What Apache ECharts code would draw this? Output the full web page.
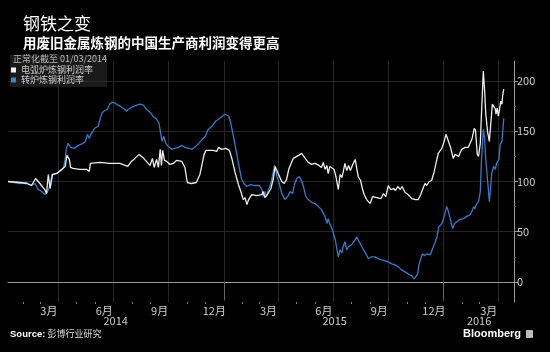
<!DOCTYPE html>
<html>
<head>
<meta charset="utf-8">
<script src="https://cdn.jsdelivr.net/npm/echarts@6/dist/echarts.min.js"></script>
<style>
  html, body { margin: 0; padding: 0; background: #000; }
  #chart { width: 550px; height: 352px; }
</style>
</head>
<body>
<div id="chart"></div>
<script>
  // x = days since 2014-01-01
  const eafDays = [6, 26, 37, 45, 52, 59, 67, 70, 73, 76, 80, 87, 95, 101, 104, 108, 110, 114, 125, 137, 141, 143, 159, 175, 192, 205, 211, 217, 224, 230, 236, 242, 246, 249, 253, 256, 259, 261, 263, 266, 270, 275, 281, 286, 295, 300, 304, 311, 319, 325, 328, 332, 335, 347, 353, 356, 361, 368, 374, 378, 383, 389, 394, 397, 400, 403, 406, 411, 419, 428, 430, 433, 438, 443, 447, 450, 455, 461, 465, 469, 473, 480, 489, 494, 500, 505, 511, 516, 523, 527, 530, 533, 536, 538, 541, 544, 548, 551, 555, 558, 561, 563, 566, 569, 572, 575, 579, 583, 586, 588, 592, 595, 598, 602, 608, 612, 619, 626, 630, 634, 638, 642, 647, 650, 654, 658, 661, 666, 671, 677, 683, 688, 692, 695, 699, 702, 706, 710, 714, 717, 721, 727, 730, 734, 738, 742, 746, 749, 755, 760, 766, 771, 777, 781, 783, 786, 788, 791, 793, 796, 798, 800, 803, 806, 809, 811, 813, 816, 817, 819, 821, 823, 825, 827, 828, 830];
  const eafValues = [100, 99, 98, 96, 103, 98, 92, 88, 107, 93, 107, 108, 112, 115, 126, 122, 114, 113, 112, 112, 110, 118, 119, 118, 118, 115, 120, 123, 127, 124, 120, 116, 123, 114, 122, 114, 132, 116, 131, 121, 120, 117, 118, 121, 120, 114, 99, 98, 99, 107, 108, 127, 131, 131, 130, 134, 132, 133, 131, 123, 110, 97, 88, 82, 84, 77, 82, 87, 86, 87, 90, 84, 88, 93, 103, 115, 108, 100, 98, 102, 113, 123, 126, 128, 123, 119, 117, 118, 116, 114, 119, 112, 116, 108, 115, 116, 112, 105, 92, 107, 104, 109, 118, 111, 116, 111, 117, 122, 123, 105, 101, 93, 87, 82, 78, 85, 84, 83, 88, 85, 96, 92, 93, 91, 95, 92, 95, 89, 87, 83, 82, 82, 87, 92, 98, 96, 100, 101, 109, 117, 128, 133, 138, 147, 140, 133, 123, 127, 125, 132, 134, 134, 142, 153, 151, 127, 125, 138, 168, 210, 192, 168, 150, 140, 162, 177, 178, 172, 167, 173, 165, 172, 180, 177, 185, 192];

  const bofDays = [6, 26, 37, 45, 51, 56, 62, 67, 71, 74, 77, 79, 84, 92, 98, 101, 103, 106, 110, 116, 123, 131, 135, 138, 141, 145, 150, 156, 159, 162, 165, 171, 175, 179, 184, 189, 195, 200, 203, 206, 212, 220, 225, 231, 236, 242, 247, 253, 257, 260, 262, 265, 268, 272, 278, 283, 289, 295, 300, 307, 312, 318, 323, 329, 334, 339, 345, 351, 356, 362, 367, 373, 376, 380, 386, 390, 394, 398, 403, 409, 416, 424, 428, 430, 433, 436, 439, 443, 446, 449, 453, 456, 461, 466, 471, 475, 479, 482, 486, 490, 493, 497, 501, 505, 511, 516, 522, 527, 533, 536, 538, 541, 545, 550, 552, 555, 558, 561, 563, 566, 569, 572, 577, 583, 586, 588, 594, 599, 605, 610, 616, 622, 627, 633, 638, 644, 649, 655, 660, 666, 671, 677, 681, 684, 687, 689, 693, 695, 698, 702, 708, 711, 715, 719, 722, 727, 731, 735, 737, 741, 745, 748, 752, 757, 763, 768, 774, 777, 780, 782, 785, 788, 791, 793, 796, 798, 800, 803, 806, 808, 810, 813, 816, 818, 820, 822, 824, 827, 829, 830];
  const bofValues = [100, 98, 99, 96, 98, 92, 90, 87, 89, 93, 100, 107, 107, 110, 113, 122, 133, 138, 134, 133, 136, 138, 140, 147, 143, 148, 153, 155, 162, 168, 170, 172, 177, 179, 178, 176, 174, 172, 170, 172, 174, 176, 177, 176, 172, 169, 165, 162, 158, 147, 140, 145, 138, 135, 132, 133, 134, 136, 134, 133, 132, 135, 138, 142, 145, 152, 155, 160, 162, 165, 167, 165, 159, 147, 128, 115, 103, 98, 95, 97, 96, 96, 92, 85, 90, 85, 92, 98, 107, 116, 105, 100, 88, 82, 85, 90, 88, 97, 103, 105, 102, 95, 85, 82, 79, 78, 75, 72, 65, 58, 63, 58, 52, 42, 35, 25, 32, 29, 35, 40, 32, 35, 37, 42, 45, 42, 35, 30, 23, 25, 25, 23, 22, 21, 20, 18, 17, 15, 12, 10, 8, 6, 3, 2, 8, 17, 25, 28, 26, 28, 27, 32, 38, 45, 55, 58, 65, 75, 72, 63, 53, 58, 60, 62, 63, 65, 67, 70, 75, 73, 78, 80, 90, 122, 152, 143, 122, 102, 80, 93, 108, 115, 112, 118, 118, 122, 137, 140, 155, 163];

  // axis ticks / labels
  const quarterDays = [90, 181, 273, 365, 455, 546, 638, 730, 821];
  const monthStartDays = [31, 59, 120, 151, 212, 243, 304, 334, 396, 424, 485, 516, 577, 608, 669, 699, 761, 790];
  const monthLabelDays = [74, 166, 258, 349, 439, 531, 623, 714, 805];
  const monthLabels = ['3月', '6月', '9月', '12月', '3月', '6月', '9月', '12月', '3月'];
  const yearLabelDays = [185, 549, 789];
  const yearLabels = ['2014', '2015', '2016'];
  const yearBreakDays = [365, 730];
  const yTicks = [0, 50, 100, 150, 200];
  const yMinorTicks = [25, 75, 125, 175];

  const axisFont = '"Liberation Sans Narrow", "Noto Sans CJK SC", sans-serif';
  const cjkFont = '"Noto Sans CJK SC", sans-serif';

  const chart = echarts.init(document.getElementById('chart'));
  chart.setOption({
    backgroundColor: '#000',
    animation: false,
    title: [
      {
        text: '钢铁之变',
        left: 18, top: 10,
        textStyle: { color: '#fff', fontSize: 17, fontWeight: 'normal', fontFamily: cjkFont }
      },
      {
        text: '用废旧金属炼钢的中国生产商利润变得更高',
        left: 18, top: 31,
        textStyle: { color: '#fff', fontSize: 13.5, fontWeight: 'bold', fontFamily: cjkFont }
      }
    ],
    grid: { left: 8, right: 36, top: 61, bottom: 50 },
    legend: {
      left: 11, top: 65,
      orient: 'vertical',
      itemGap: 0,
      itemWidth: 5, itemHeight: 5,
      padding: 0,
      icon: 'rect',
      selectedMode: false,
      textStyle: { color: '#ccc', fontSize: 9, lineHeight: 10, fontFamily: cjkFont },
      data: ['电弧炉炼钢利润率', '转炉炼钢利润率']
    },
    graphic: [
      { type: 'rect', left: 10, top: 55, shape: { width: 97, height: 32 }, style: { fill: '#1a1a1a' }, z: -1 },
      { type: 'text', left: 13, top: 54, style: { text: '正常化截至 01/03/2014', fill: '#bbb', font: '9px ' + cjkFont } },
      {
        type: 'text', left: 10, top: 329,
        style: {
          text: '{b|Source:} 彭博行业研究',
          fill: '#ddd',
          font: '9px ' + cjkFont,
          rich: { b: { fontWeight: 'bold', fontSize: 9.5, fill: '#fff', fontFamily: 'Liberation Sans, sans-serif' } }
        }
      },
      { type: 'text', right: 29, top: 328, style: { text: 'Bloomberg', fill: '#fff', font: 'bold 11px "Liberation Sans", sans-serif' } },
      { type: 'rect', right: 17, top: 330, shape: { width: 7, height: 8, r: 1 }, style: { fill: '#bbb' } }
    ],
    xAxis: [
      {
        type: 'value', min: 6, max: 847,
        axisLine: { lineStyle: { color: '#9a9a9a', width: 1 } },
        axisTick: { show: false, customValues: quarterDays },
        splitLine: { show: true, lineStyle: { color: '#262626', width: 1 } },
        axisLabel: {
          customValues: monthLabelDays,
          color: '#ccc', fontSize: 11, fontFamily: axisFont, margin: 3,
          formatter: (v) => monthLabels[monthLabelDays.indexOf(v)]
        }
      },
      {
        type: 'value', min: 6, max: 847, position: 'bottom', offset: 8,
        axisLine: { show: false },
        axisTick: { show: true, customValues: yearBreakDays, length: 18, lineStyle: { color: '#666' } },
        splitLine: { show: false },
        axisLabel: {
          customValues: yearLabelDays,
          color: '#ccc', fontSize: 11, fontFamily: axisFont, margin: 5,
          formatter: (v) => yearLabels[yearLabelDays.indexOf(v)]
        }
      },
      {
        type: 'value', min: 6, max: 847, position: 'bottom',
        axisLine: { show: false },
        axisTick: { show: true, customValues: monthStartDays, length: 2, lineStyle: { color: '#777' } },
        splitLine: { show: false },
        axisLabel: { show: false }
      }
    ],
    yAxis: [
      {
        type: 'value', min: -20, max: 220, position: 'right',
        axisLine: { show: true, lineStyle: { color: '#9a9a9a' } },
        axisTick: { show: true, customValues: yTicks, length: 4, lineStyle: { color: '#9a9a9a' } },
        splitLine: { show: true, lineStyle: { color: '#262626' } },
        axisLabel: { customValues: yTicks, color: '#ccc', fontSize: 11, fontFamily: axisFont, margin: 3 }
      },
      {
        type: 'value', min: -20, max: 220, position: 'right',
        axisLine: { show: false },
        axisTick: { show: true, customValues: yMinorTicks, length: 2, lineStyle: { color: '#666' } },
        splitLine: { show: false },
        axisLabel: { show: false }
      }
    ],
    series: [
      {
        name: '电弧炉炼钢利润率',
        type: 'line',
        data: eafDays.map((d, i) => [d, eafValues[i]]),
        showSymbol: false,
        color: '#f2f2f2',
        lineStyle: { width: 1.3, color: '#eeeeee' },
        z: 3
      },
      {
        name: '转炉炼钢利润率',
        type: 'line',
        data: bofDays.map((d, i) => [d, bofValues[i]]),
        showSymbol: false,
        color: '#3d7fd6',
        lineStyle: { width: 1.3, color: '#3a78c9' },
        z: 2
      }
    ]
  });
</script>
</body>
</html>
